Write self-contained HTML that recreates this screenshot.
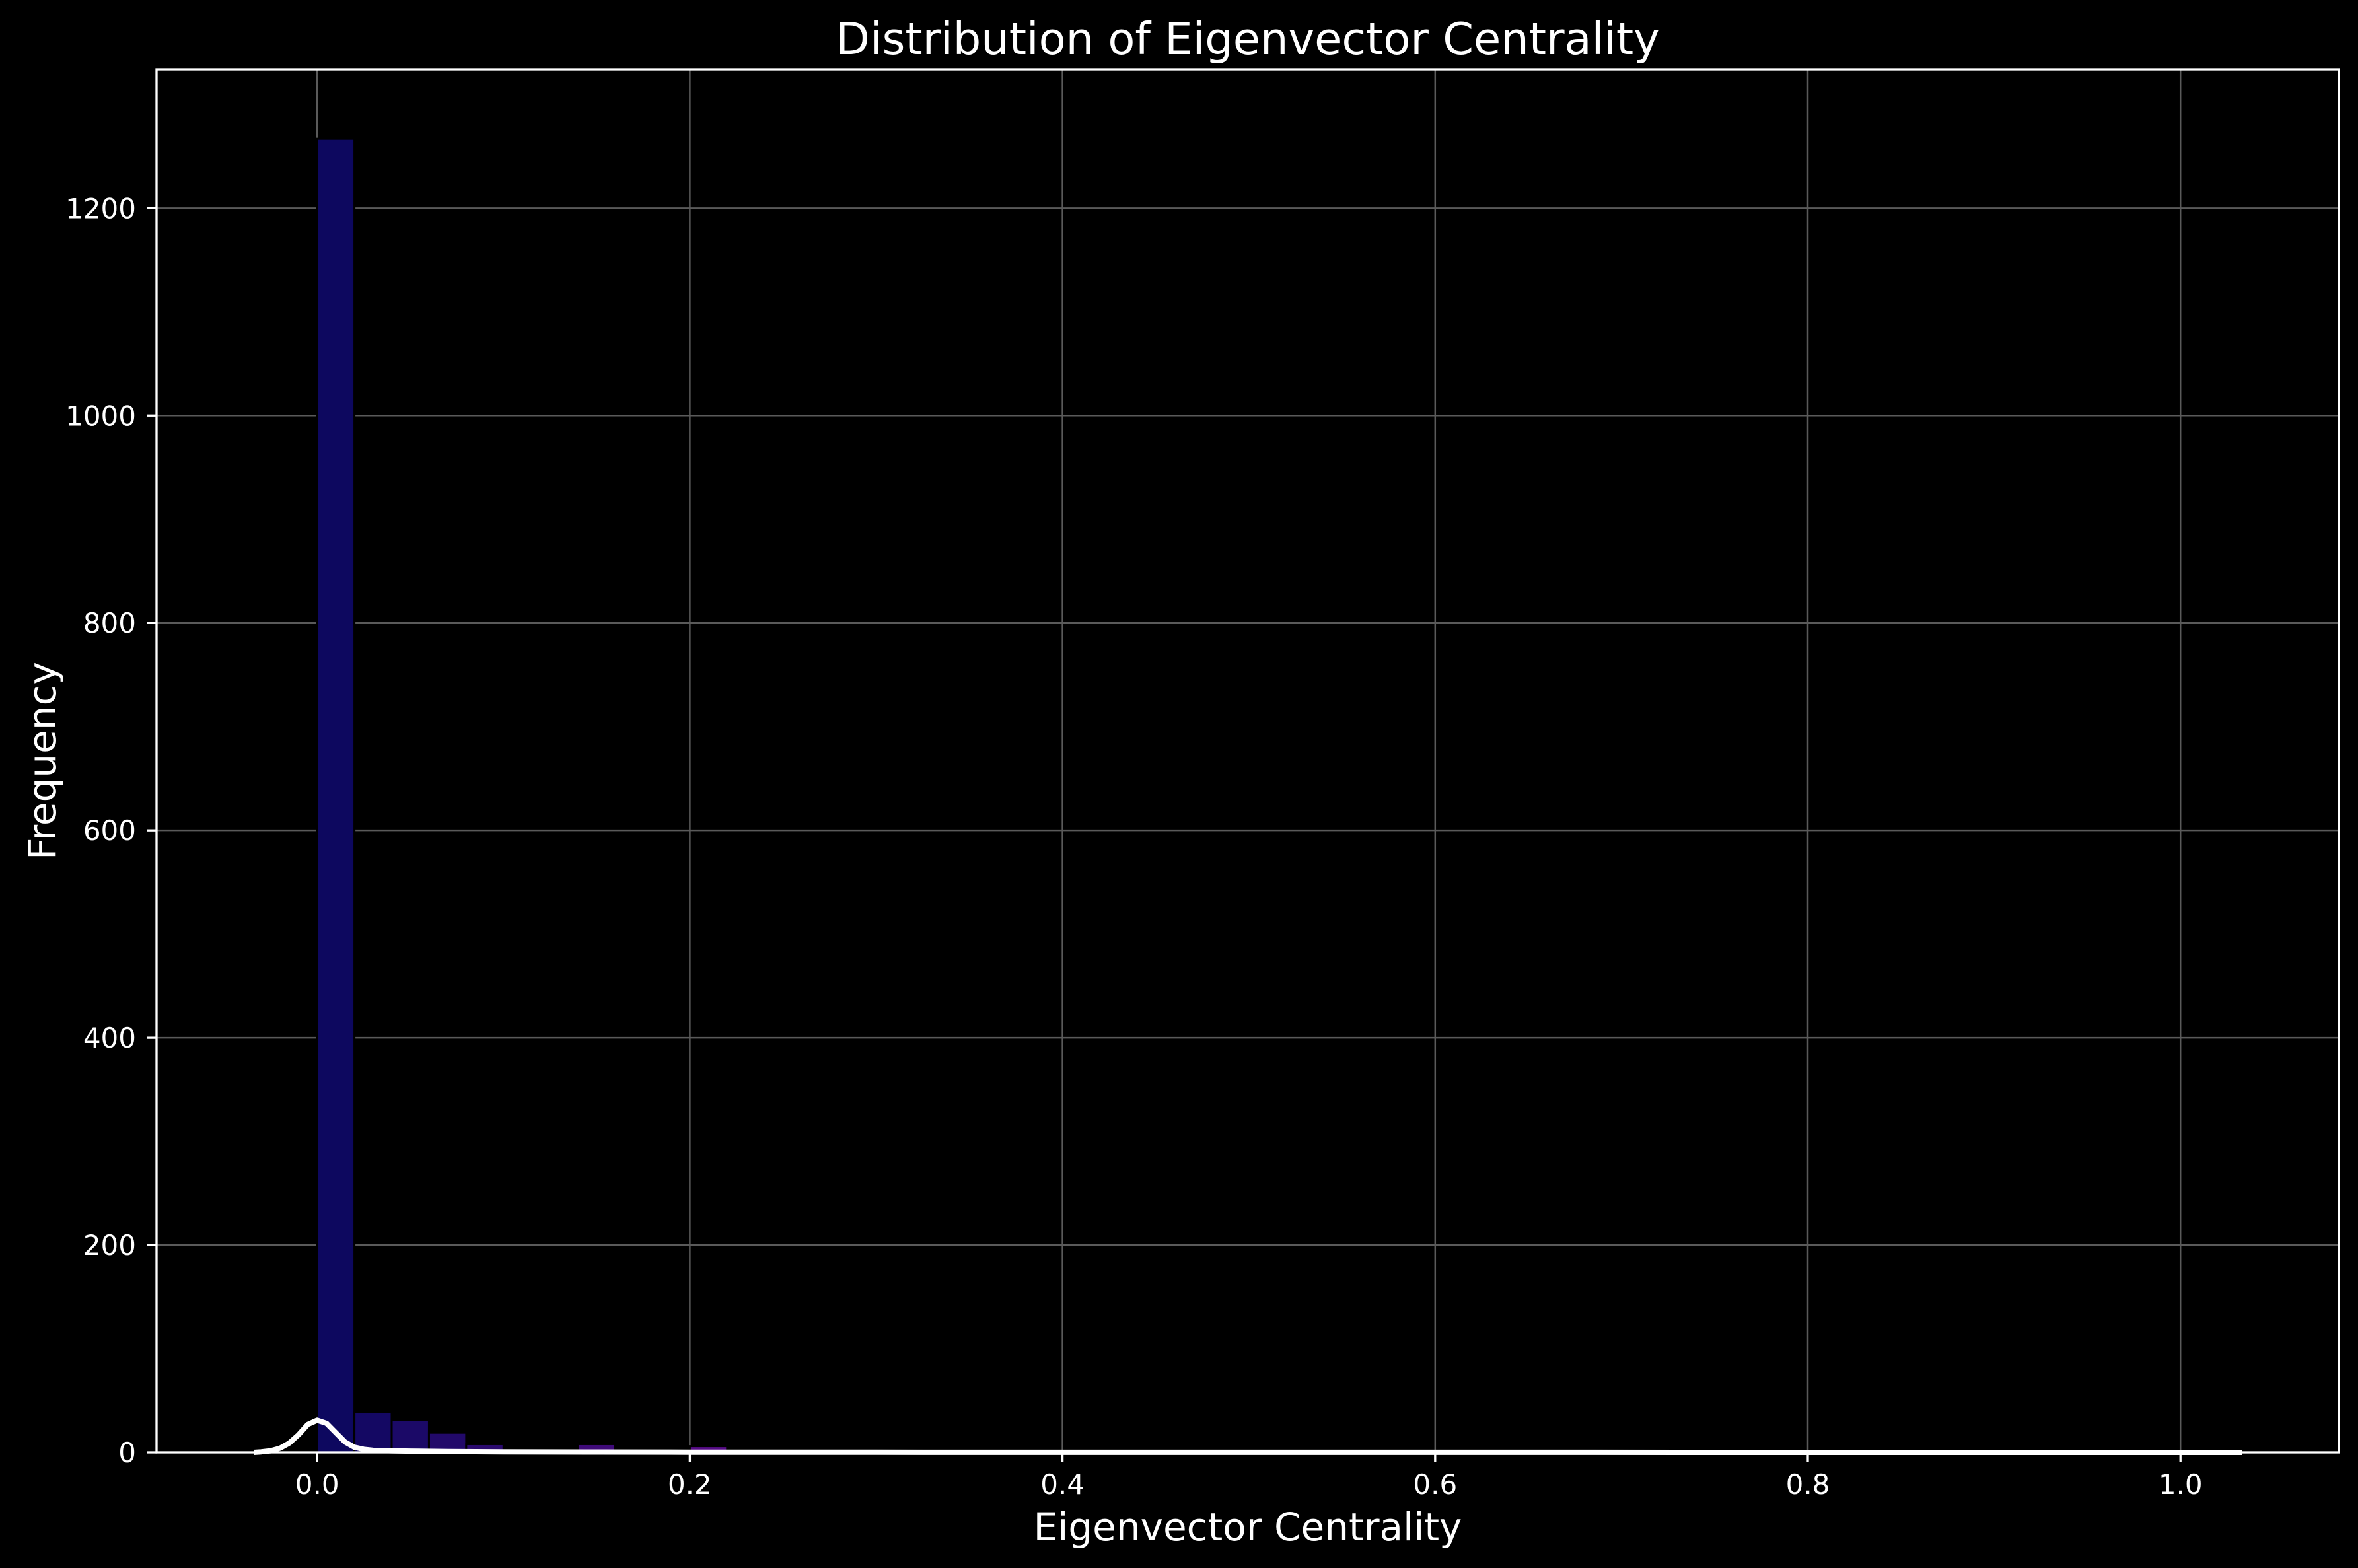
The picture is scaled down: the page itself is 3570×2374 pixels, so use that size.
<!DOCTYPE html>
<html><head><meta charset="utf-8"><style>
html,body{margin:0;padding:0;background:#000;}
svg{display:block;}
text{font-family:"DejaVu Sans","Liberation Sans",sans-serif;fill:#fff;}
</style></head><body>
<svg id="chart" width="3570" height="2374" viewBox="0 0 3570 2374" xmlns="http://www.w3.org/2000/svg">
<rect x="0" y="0" width="3570" height="2374" fill="#000"/>
<g id="grid"></g>
<g id="bars"></g>
<g id="kde"></g>
<g id="axes"></g>
<text x="1889" y="82" font-size="67" text-anchor="middle">Distribution of Eigenvector Centrality</text>
<text x="1889" y="2332" font-size="58" text-anchor="middle">Eigenvector Centrality</text>
<text x="0" y="0" font-size="58" text-anchor="middle" transform="translate(84,1152) rotate(-90)">Frequency</text>
</svg>
<script>
const binStart = 0.0;
const binWidth = 0.02;
const binCounts = [1267, 39, 31, 19, 8, 1, 2, 8, 1, 1, 6, 0, 2, 0];
const kdeX = [-0.034,-0.03,-0.025,-0.02,-0.015,-0.01,-0.005,0,0.005,0.01,0.015,0.02,0.025,0.03,0.04,0.05,0.07,0.1,0.15,0.2,0.3,0.5,1.033];
const kdeY = [0,0.5,1.5,4,9,17,27,31,28,19,10,5,3,2,1.5,1.2,0.8,0.5,0.3,0.2,0.1,0.05,0];
const xTicks = [0.0,0.2,0.4,0.6,0.8,1.0];
const xTickLabels = ["0.0","0.2","0.4","0.6","0.8","1.0"];
const yTicks = [0,200,400,600,800,1000,1200];
const yTickLabels = ["0","200","400","600","800","1000","1200"];

const L=237,R=3541,T=105,B=2199;
const xMin=-0.0862,xMax=1.085,yMin=0,yMax=1334;
const sx=v=>L+(v-xMin)/(xMax-xMin)*(R-L);
const sy=v=>B-(v-yMin)/(yMax-yMin)*(B-T);
const NS="http://www.w3.org/2000/svg";
function mk(tag,attrs,parent){const e=document.createElementNS(NS,tag);for(const k in attrs)e.setAttribute(k,attrs[k]);parent.appendChild(e);return e;}
const grid=document.getElementById('grid'),bars=document.getElementById('bars'),kde=document.getElementById('kde'),axes=document.getElementById('axes');

xTicks.forEach((t,i)=>{
  const g=mk('line',{x1:sx(t),x2:sx(t),y1:T,y2:B,stroke:'#5a5a5a',"stroke-width":2.5},grid);
  
  
  const tk=mk('line',{x1:sx(t),x2:sx(t),y1:B,y2:B+15,stroke:'#fff',"stroke-width":3.3},axes);
  
  
  const lb=mk('text',{x:sx(t),y:2262,"font-size":42,"text-anchor":"middle"},axes);
  lb.textContent=xTickLabels[i];
  
  
});
yTicks.forEach((t,i)=>{
  const g=mk('line',{x1:L,x2:R,y1:sy(t),y2:sy(t),stroke:'#5a5a5a',"stroke-width":2.5},grid);
  
  
  const tk=mk('line',{x1:L-15,x2:L,y1:sy(t),y2:sy(t),stroke:'#fff',"stroke-width":3.3},axes);
  
  
  const lb=mk('text',{x:206,y:sy(t)+15,"font-size":42,"text-anchor":"end"},axes);
  lb.textContent=yTickLabels[i];
  
  
});

function lerp(a,b,t){return Math.round(a+(b-a)*t);}
binCounts.forEach((c,i)=>{
  if(c<=0)return;
  const x0=binStart+i*binWidth,x1=x0+binWidth;
  const t=Math.min(1,i/13);
  const col=`rgb(${lerp(13,106,t)},${lerp(8,12,t)},${lerp(95,144,t)})`;
  const r=mk('rect',{x:sx(x0),y:sy(c),width:sx(x1)-sx(x0),height:sy(0)-sy(c),fill:col,stroke:'#000',"stroke-width":3},bars);
  
  
});

let d='';
kdeX.forEach((x,i)=>{d+=(i?'L':'M')+sx(x).toFixed(1)+','+sy(kdeY[i]).toFixed(1);});
const p=mk('path',{d:d,fill:'none',stroke:'#fff',"stroke-width":8,"stroke-linejoin":"round"},kde);



const frame=mk('rect',{x:L,y:T,width:R-L,height:B-T,fill:'none',stroke:'#fff',"stroke-width":3.3},axes);


</script>
</body></html>
